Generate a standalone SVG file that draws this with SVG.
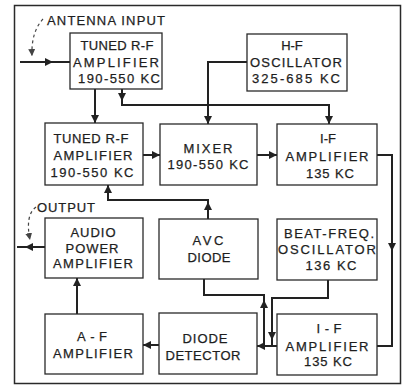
<svg xmlns="http://www.w3.org/2000/svg" width="408" height="388" viewBox="0 0 408 388">
<style>
.box{fill:#fff;stroke:#2a2a2a;stroke-width:1.3}
.t{font-family:"Liberation Sans",Arial,sans-serif;font-size:13px;fill:#1e1e1e;stroke:#1e1e1e;stroke-width:0.25;text-anchor:middle}
.lbl{font-family:"Liberation Sans",Arial,sans-serif;font-size:13px;fill:#1e1e1e;stroke:#1e1e1e;stroke-width:0.25}
.c{fill:none;stroke:#222;stroke-width:2}
.d{fill:none;stroke:#444;stroke-width:1.2;stroke-dasharray:3 3}
</style>
<defs>
<marker id="ah" markerUnits="userSpaceOnUse" markerWidth="9" markerHeight="8" refX="8" refY="4" orient="auto">
<path d="M0,0 L8,4 L0,8 z" fill="#222"/>
</marker>
<marker id="dh" markerUnits="userSpaceOnUse" markerWidth="8" markerHeight="7" refX="7" refY="3.5" orient="auto">
<path d="M0,0 L7,3.5 L0,7 z" fill="#444"/>
</marker>
</defs>
<rect width="408" height="388" fill="#fff"/>
<rect x="14.5" y="5.5" width="386" height="378" fill="none" stroke="#2a2a2a" stroke-width="1.5"/>

<g id="connectors">
<path class="c" d="M20,62 H53" marker-end="url(#ah)"/>
<path class="c" d="M50,62 H70"/>
<path class="d" d="M43,19 Q31,32 32,56" marker-end="url(#dh)"/>
<path class="c" d="M95,89 V123" marker-end="url(#ah)"/>
<path class="c" d="M122,89 V101" marker-end="url(#ah)"/>
<path class="c" d="M122,98 V105 H329 V124" marker-end="url(#ah)"/>
<path class="c" d="M247,62 H208 V124" marker-end="url(#ah)"/>
<path class="c" d="M143,155 H160" marker-end="url(#ah)"/>
<path class="c" d="M257,155 H277" marker-end="url(#ah)"/>
<path class="c" d="M377,155 H392 V251" marker-end="url(#ah)"/>
<path class="c" d="M392,248 V346 H377"/>
<path class="c" d="M208,219 V202" marker-end="url(#ah)"/>
<path class="c" d="M208,205 V200 H108 V185" marker-end="url(#ah)"/>
<path class="c" d="M204,279 V295 H264 V302"/>
<path class="c" d="M264,346 V300" marker-end="url(#ah)"/>
<path class="c" d="M328,280 V298 H272 V340" marker-end="url(#ah)"/>
<path class="c" d="M272,337 V346"/>
<path class="c" d="M277,346 H257" marker-end="url(#ah)"/>
<path class="c" d="M159,345 H143" marker-end="url(#ah)"/>
<path class="c" d="M77,314 V278" marker-end="url(#ah)"/>
<path class="c" d="M45,247 H25" marker-end="url(#ah)"/>
<path class="c" d="M28,247 H17"/>
<path class="d" d="M36,207 Q25,215 30,240" marker-end="url(#dh)"/>
</g>

<g id="antenna-label"><text class="lbl" x="47" y="25" textLength="118" lengthAdjust="spacing">ANTENNA INPUT</text></g>
<g id="output-label"><text class="lbl" x="37" y="212" textLength="58" lengthAdjust="spacing">OUTPUT</text></g>

<g id="rf1">
<rect class="box" x="70" y="33" width="92" height="56"/>
<text class="t" x="117" y="50" textLength="73" lengthAdjust="spacing">TUNED R-F</text>
<text class="t" x="116" y="67" textLength="86" lengthAdjust="spacing">AMPLIFIER</text>
<text class="t" x="119" y="83" textLength="82" lengthAdjust="spacing">190-550 KC</text>
</g>
<g id="hfo">
<rect class="box" x="247" y="34" width="100" height="57"/>
<text class="t" x="292" y="50">H-F</text>
<text class="t" x="296" y="67" textLength="92" lengthAdjust="spacing">OSCILLATOR</text>
<text class="t" x="296" y="83" textLength="88" lengthAdjust="spacing">325-685 KC</text>
</g>
<g id="rf2">
<rect class="box" x="45" y="123" width="98" height="62"/>
<text class="t" x="91" y="143" textLength="75" lengthAdjust="spacing">TUNED R-F</text>
<text class="t" x="93" y="160" textLength="79" lengthAdjust="spacing">AMPLIFIER</text>
<text class="t" x="92" y="177" textLength="83" lengthAdjust="spacing">190-550 KC</text>
</g>
<g id="mixer">
<rect class="box" x="160" y="124" width="97" height="61"/>
<text class="t" x="208" y="153" textLength="49" lengthAdjust="spacing">MIXER</text>
<text class="t" x="208" y="169" textLength="81" lengthAdjust="spacing">190-550 KC</text>
</g>
<g id="if1">
<rect class="box" x="277" y="124" width="100" height="61"/>
<text class="t" x="328" y="143">I-F</text>
<text class="t" x="327" y="161" textLength="83" lengthAdjust="spacing">AMPLIFIER</text>
<text class="t" x="330" y="178" textLength="48" lengthAdjust="spacing">135 KC</text>
</g>
<g id="apa">
<rect class="box" x="45" y="218" width="98" height="60"/>
<text class="t" x="93" y="237" textLength="45" lengthAdjust="spacing">AUDIO</text>
<text class="t" x="92" y="253" textLength="53" lengthAdjust="spacing">POWER</text>
<text class="t" x="93" y="268" textLength="80" lengthAdjust="spacing">AMPLIFIER</text>
</g>
<g id="avc">
<rect class="box" x="159" y="219" width="99" height="60"/>
<text class="t" x="208" y="245" textLength="31" lengthAdjust="spacing">AVC</text>
<text class="t" x="209" y="262" textLength="43" lengthAdjust="spacing">DIODE</text>
</g>
<g id="bfo">
<rect class="box" x="277" y="219" width="100" height="61"/>
<text class="t" x="329" y="238" textLength="90" lengthAdjust="spacing">BEAT-FREQ.</text>
<text class="t" x="327" y="254" textLength="98" lengthAdjust="spacing">OSCILLATOR</text>
<text class="t" x="331" y="270" textLength="51" lengthAdjust="spacing">136 KC</text>
</g>
<g id="af">
<rect class="box" x="45" y="314" width="98" height="60"/>
<text class="t" x="92" y="341" textLength="30" lengthAdjust="spacing">A-F</text>
<text class="t" x="93" y="358" textLength="80" lengthAdjust="spacing">AMPLIFIER</text>
</g>
<g id="detector">
<rect class="box" x="159" y="313" width="98" height="61"/>
<text class="t" x="205" y="343" textLength="45" lengthAdjust="spacing">DIODE</text>
<text class="t" x="203" y="360" textLength="75" lengthAdjust="spacing">DETECTOR</text>
</g>
<g id="if2">
<rect class="box" x="277" y="314" width="100" height="61"/>
<text class="t" x="329" y="333" textLength="25" lengthAdjust="spacing">I-F</text>
<text class="t" x="327" y="351" textLength="83" lengthAdjust="spacing">AMPLIFIER</text>
<text class="t" x="328" y="366" textLength="48" lengthAdjust="spacing">135 KC</text>
</g>
</svg>
